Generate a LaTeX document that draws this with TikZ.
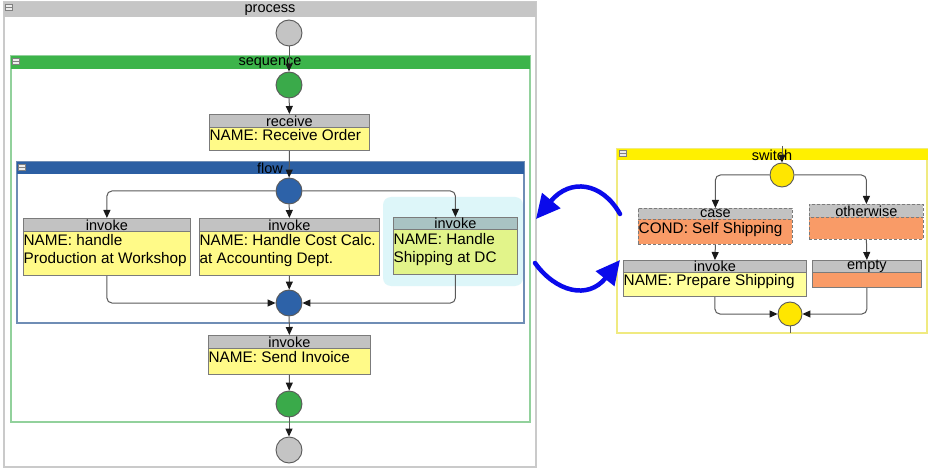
\documentclass[tikz,border=0pt]{standalone}
\usepackage{fontspec}
\setmainfont{Liberation Sans}
\usetikzlibrary{arrows.meta}
\definecolor{procHdr}{HTML}{C6C6C6}
\definecolor{procBrd}{HTML}{CACACA}
\definecolor{seqHdr}{HTML}{3CB44A}
\definecolor{seqBrd}{HTML}{92D19C}
\definecolor{flowHdr}{HTML}{2C5FA3}
\definecolor{flowBrd}{HTML}{6F8DB5}
\definecolor{swHdr}{HTML}{FFF000}
\definecolor{swBrd}{HTML}{F0EA80}
\definecolor{boxHdr}{HTML}{C2C2C2}
\definecolor{boxYel}{HTML}{FFFA88}
\definecolor{boxYel2}{HTML}{FFFF9C}
\definecolor{selHdr}{HTML}{A9C3C3}
\definecolor{selBody}{HTML}{E2F48A}
\definecolor{glow}{HTML}{DDF6F9}
\definecolor{orangeB}{HTML}{F99B67}
\definecolor{circGray}{HTML}{C4C4C4}
\definecolor{circGreen}{HTML}{3AAA4A}
\definecolor{circBlue}{HTML}{2D62A8}
\definecolor{circYel}{HTML}{FFE600}
\definecolor{lineGray}{HTML}{5A5A5A}
\definecolor{bigBlue}{HTML}{0A0AEB}
\begin{document}
\begin{tikzpicture}[x=1pt,y=-1pt,
  hdr/.style={draw=lineGray!80,line width=0.8pt,fill=boxHdr,inner sep=0pt,anchor=north west,
    font=\fontsize{14.5}{14}\selectfont},
  bodyn/.style={draw=lineGray!80,line width=0.8pt,fill=boxYel,inner sep=0pt,anchor=north west},
  btxt/.style={inner sep=0pt,anchor=north west,align=left,font=\fontsize{15.3}{18}\selectfont},
  ctitle/.style={inner sep=0pt,font=\fontsize{14.5}{14}\selectfont},
  circ/.style={circle,draw=lineGray,line width=0.9pt,minimum size=26pt,inner sep=0pt},
  ycirc/.style={circle,draw=lineGray,line width=0.9pt,minimum size=24pt,inner sep=0pt,fill=circYel},
  conn/.style={draw=lineGray,line width=1pt,rounded corners=5pt,-{Triangle[length=8pt,width=7pt,color=black!90]}},
  plain/.style={draw=lineGray,line width=1pt},
  icon/.style={draw=gray,line width=0.6pt,fill=white!85!gray},
  bigarrow/.style={draw=bigBlue,line width=4.5pt,line cap=round,-{Triangle[length=24pt,width=23pt]}}
]
\useasboundingbox (0,0) rectangle (928,470);
\fill[white] (0,0) rectangle (928,470);

% ---------- process container ----------
\draw[procBrd,line width=1.5pt] (4,2) rectangle (536,467);
\fill[procHdr] (4,2) rectangle (536,17);
\draw[icon] (5,4) rectangle (12,10); \draw[gray,line width=0.5pt] (5,7) -- (12,7);
\node[ctitle] (procT) at (270,10.5) {process};

% ---------- sequence container ----------
\draw[seqBrd,line width=1.5pt] (11,56) rectangle (530,422);
\fill[seqHdr] (11,56) rectangle (530,69);
\draw[icon] (12,58) rectangle (19,64); \draw[gray,line width=0.5pt] (12,61) -- (19,61);
\node[ctitle] (seqT) at (270,63.5) {sequence};

% ---------- flow container ----------
\fill[glow,rounded corners=8pt] (383,197) rectangle (523,286);
\draw[flowBrd,line width=1.5pt] (17,162) rectangle (524,323);
\fill[flowHdr] (17,162) rectangle (524,174);
\draw[icon] (18,164) rectangle (25,170); \draw[gray,line width=0.5pt] (18,167) -- (25,167);
\node[ctitle] (flowT) at (270,168.5) {flow};

% ---------- switch container ----------
\draw[swBrd,line width=1.5pt] (617,149) rectangle (927,333);
\fill[swHdr] (617,149) rectangle (928,160);
\draw[icon] (619,150) rectangle (626,156); \draw[gray,line width=0.5pt] (619,153) -- (626,153);
\node[ctitle] (swT) at (772,155.5) {switch};

% ---------- circles ----------
\node[circ,fill=circGray] (c0) at (289,33) {};
\node[circ,fill=circGreen] (g1) at (289,85) {};
\node[circ,fill=circBlue] (b1) at (289,191) {};
\node[circ,fill=circBlue] (b2) at (289,303) {};
\node[circ,fill=circGreen] (g2) at (289,404) {};
\node[circ,fill=circGray] (c1) at (289,450) {};
\node[ycirc] (y1) at (782,175) {};
\node[ycirc] (y2) at (790,314) {};

% ---------- receive ----------
\node[hdr,minimum width=160pt,minimum height=13pt] (recvH) at (209,114) {receive};
\node[bodyn,minimum width=160pt,minimum height=23pt] (recvB) at (209,127) {};
\node[btxt] (recvT) at (209.5,129) {NAME: Receive Order};

% ---------- invoke 1 ----------
\node[hdr,minimum width=167pt,minimum height=13pt] (inv1H) at (23,218) {invoke};
\node[bodyn,minimum width=167pt,minimum height=44pt] (inv1B) at (23,231) {};
\node[btxt] (inv1T) at (23.5,234) {NAME: handle\\Production at Workshop};

% ---------- invoke 2 ----------
\node[hdr,minimum width=180pt,minimum height=13pt] (inv2H) at (199,218) {invoke};
\node[bodyn,minimum width=180pt,minimum height=44pt] (inv2B) at (199,231) {};
\node[btxt] (inv2T) at (199.5,234) {NAME: Handle Cost Calc.\\at Accounting Dept.};

% ---------- invoke 3 (selected) ----------
\node[hdr,fill=selHdr,minimum width=124pt,minimum height=12pt] (inv3H) at (393,217) {invoke};
\node[bodyn,fill=selBody,minimum width=124pt,minimum height=45pt] (inv3B) at (393,229) {};
\node[btxt] (inv3T) at (393.5,233) {NAME: Handle\\Shipping at DC};

% ---------- send invoice ----------
\node[hdr,minimum width=162pt,minimum height=13pt] (sendH) at (208,335) {invoke};
\node[bodyn,minimum width=162pt,minimum height=26pt] (sendB) at (208,348) {};
\node[btxt] (sendT) at (208.5,351) {NAME: Send Invoice};

% ---------- case ----------
\node[hdr,densely dashed,minimum width=154pt,minimum height=11pt] (caseH) at (638,208) {case};
\node[bodyn,densely dashed,fill=orangeB,minimum width=154pt,minimum height=25pt] (caseB) at (638,219) {};
\node[btxt] (caseT) at (638.5,222) {COND: Self Shipping};

% ---------- otherwise ----------
\node[hdr,densely dashed,minimum width=114pt,minimum height=13pt] (othH) at (809,204) {otherwise};
\node[bodyn,densely dashed,fill=orangeB,minimum width=114pt,minimum height=22pt] (othB) at (809,217) {};

% ---------- prepare shipping ----------
\node[hdr,minimum width=183pt,minimum height=12pt] (prepH) at (623,260) {invoke};
\node[bodyn,fill=boxYel2,minimum width=183pt,minimum height=24pt] (prepB) at (623,272) {};
\node[btxt] (prepT) at (623.5,274.5) {NAME: Prepare Shipping};

% ---------- empty ----------
\node[hdr,minimum width=109pt,minimum height=12pt] (emptyH) at (812,260) {empty};
\node[bodyn,fill=orangeB,minimum width=109pt,minimum height=15pt] (emptyB) at (812,272) {};

% ---------- connectors (process) ----------
\draw[conn] (c0) -- (g1);
\draw[conn] (g1) -- (recvH.north);
\draw[conn] (recvB.south) -- (b1);
\draw[conn] (b1.west) -| (inv1H.north);
\draw[conn] (b1) -- (inv2H.north);
\draw[conn] (b1.east) -| (inv3H.north);
\draw[conn] (inv1B.south) |- (b2.west);
\draw[conn] (inv2B.south) -- (b2);
\draw[conn] (inv3B.south) |- (b2.east);
\draw[conn] (b2) -- (sendH.north);
\draw[conn] (sendB.south) -- (g2);
\draw[conn] (g2) -- (c1);

% ---------- connectors (switch) ----------
\coordinate (swIn) at (782,146);
\coordinate (swOut) at (790,333);
\draw[conn] (swIn) -- (y1);
\draw[conn] (y1.west) -| (caseH.north);
\draw[conn] (y1.east) -| (othH.north);
\draw[conn] (caseB.south) -- (prepH.north);
\draw[conn] (othB.south) -- (emptyH.north);
\draw[conn] (prepB.south) |- (y2.west);
\draw[conn] (emptyB.south) |- (y2.east);
\draw[plain] (y2) -- (swOut);

% ---------- big blue arrows ----------
\coordinate (uA) at (620,214);
\coordinate (uB) at (536,219);
\coordinate (lA) at (535,263);
\coordinate (lB) at (620,260);
\draw[bigarrow] (uA) .. controls (602,182) and (570,178) .. (uB);
\draw[bigarrow] (lA) .. controls (556,292) and (588,300) .. (lB);
\end{tikzpicture}
\end{document}
